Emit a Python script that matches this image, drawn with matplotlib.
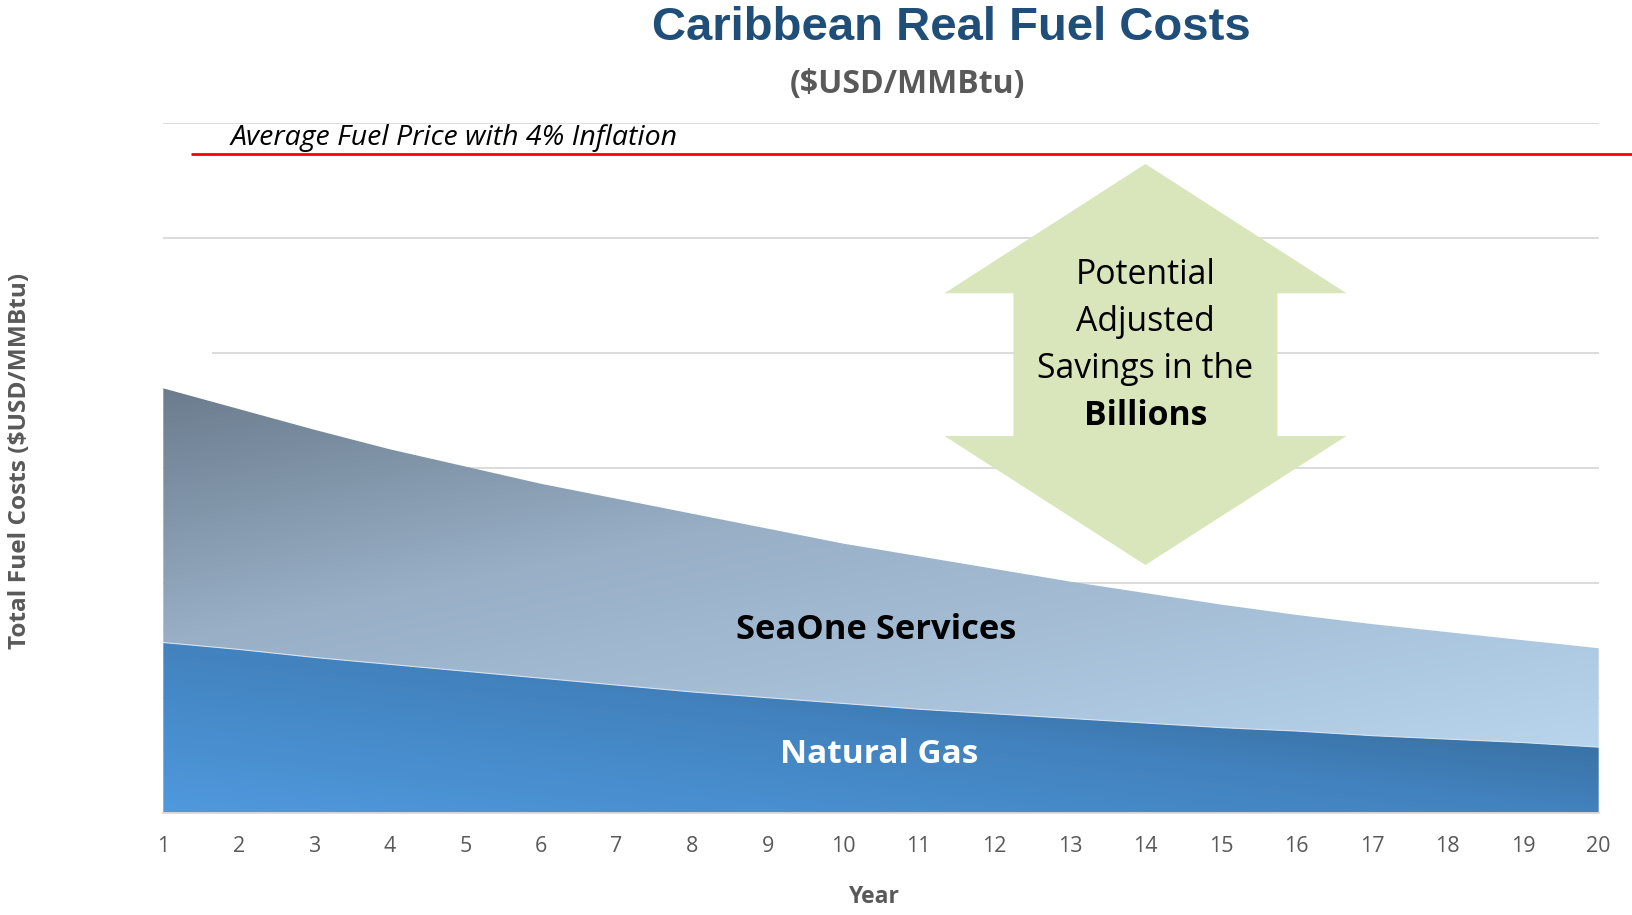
import numpy as np
import matplotlib
matplotlib.use("Agg")
import matplotlib.pyplot as plt
from matplotlib.colors import to_rgb

# ---------------- data ----------------
years = list(range(1, 21))
natural_gas = [1.48, 1.42, 1.35, 1.29, 1.23, 1.17, 1.11, 1.05, 1.00, 0.95,
               0.90, 0.86, 0.82, 0.78, 0.74, 0.71, 0.67, 0.64, 0.61, 0.57]
seaone_services = [2.21, 2.09, 1.98, 1.87, 1.78, 1.69, 1.62, 1.55, 1.47, 1.39,
                   1.33, 1.26, 1.19, 1.13, 1.07, 1.01, 0.97, 0.93, 0.89, 0.86]
avg_fuel_price_inflation = 5.725
series_labels = ["Natural Gas", "SeaOne Services"]
tick_labels = [str(y) for y in years]

title = "Caribbean Real Fuel Costs"
subtitle = "($USD/MMBtu)"
y_label = "Total Fuel Costs ($USD/MMBtu)"
x_label = "Year"
avg_label = "Average Fuel Price with 4% Inflation"
arrow_lines = ["Potential", "Adjusted", "Savings in the", "Billions"]

grid_levels = [1, 2, 3, 4, 5, 6]
grid_starts = [1, 1, 1, 1.64, 1, 1]

# ---------------- figure ----------------
W, H = 1632, 915
fig = plt.figure(figsize=(W / 100, H / 100), dpi=100)
fig.patch.set_facecolor("white")
ax = fig.add_axes([163.3 / W, (H - 812.7) / H, 1435.4 / W, 690 / H])
ax.set_xlim(1, 20)
ax.set_ylim(0, 6)

# grid
ax.hlines(grid_levels, grid_starts, 20, color="#D9D9D9", lw=1.3, zorder=1)
ax.set_yticks([])
for s in ["left", "right", "top"]:
    ax.spines[s].set_visible(False)
ax.spines["bottom"].set_color("#D9D9D9")
ax.spines["bottom"].set_linewidth(1.3)

# stacked areas
polys = ax.stackplot(years, natural_gas, seaone_services,
                     colors=["none", "none"], labels=series_labels,
                     edgecolor="none", zorder=2)

# gradients
ny, nx = 600, 800
u = np.linspace(0, 1, nx)[None, :]
w = np.linspace(1, 0, ny)[:, None]  # top row = y max (6)


def ramp(t, stops, cols):
    t = np.clip(t, 0, 1)
    cols = np.array([to_rgb(c) for c in cols])
    out = np.zeros(t.shape + (3,))
    for k in range(3):
        out[..., k] = np.interp(t, stops, cols[:, k])
    return out


t_gas = (170.8 * u + 690 * w) / 237.0
img_gas = ramp(t_gas, [0, 0.72, 1.0], ["#4F99DD", "#4282BE", "#3A72A5"])
t_sea = 0.55 * (423.7 - 690 * w) / 357.0 + 0.45 * u
img_sea = ramp(t_sea, [0, 0.39, 0.85, 1.0],
               ["#6B7C8D", "#98AFC6", "#AFCAE3", "#B9D5ED"])

for poly, img in zip(polys, [img_gas, img_sea]):
    im = ax.imshow(img, extent=[1, 20, 0, 6], aspect="auto",
                   interpolation="bilinear", zorder=2, origin="upper")
    im.set_clip_path(poly.get_paths()[0], transform=ax.transData)

# thin light separation line on top of gas
ax.plot(years, natural_gas, color="#D6E2EE", lw=0.8, zorder=3)

# x ticks
ax.set_xticks(years)
ax.set_xticklabels(tick_labels, fontfamily="Open Sans", fontsize=15.5,
                   color="#595959")
ax.tick_params(axis="x", length=0, pad=17)

# red average line
ax.plot([1.363, 20.44], [avg_fuel_price_inflation] * 2, color="#FF0000",
        lw=2.0, clip_on=False, zorder=4, solid_capstyle="butt")
ax.text(1.896, 5.805, avg_label, fontfamily="Open Sans", style="italic",
        fontsize=20.5, color="black", va="baseline", ha="left", zorder=5)

# double arrow
cx = 14.0
head_hw, shaft_hw = 2.66, 1.747
y_tip_top, y_head_top, y_head_bot, y_tip_bot = 5.641, 4.517, 3.276, 2.154
arrow_x = [cx, cx + head_hw, cx + shaft_hw, cx + shaft_hw, cx + head_hw, cx,
           cx - head_hw, cx - shaft_hw, cx - shaft_hw, cx - head_hw]
arrow_y = [y_tip_top, y_head_top, y_head_top, y_head_bot, y_head_bot, y_tip_bot,
           y_head_bot, y_head_bot, y_head_top, y_head_top]
ax.fill(arrow_x, arrow_y, color="#D9E5BA", zorder=3, lw=0)

baselines = [4.595, 4.188, 3.78, 3.375]
for i, (line, yb) in enumerate(zip(arrow_lines, baselines)):
    ax.text(cx, yb, line, fontfamily="Open Sans", fontsize=24.3,
            fontweight="bold" if i == 3 else "normal",
            ha="center", va="baseline", color="black", zorder=5)

# series labels
ax.text(10.43, 1.59, series_labels[1], fontfamily="Open Sans", fontsize=24.8,
        fontweight="bold", color="black", ha="center", va="center", zorder=5)
ax.text(10.48, 0.51, series_labels[0], fontfamily="Open Sans", fontsize=24,
        fontweight="bold", color="white", ha="center", va="center", zorder=5)

# titles and axis labels
fig.text(951 / W, 1 - 40 / H, title, fontfamily="Liberation Sans",
         fontweight="bold", fontsize=34, color="#1F4E79",
         ha="center", va="baseline")
fig.text(907.5 / W, 1 - 93.3 / H, subtitle, fontfamily="Open Sans",
         fontweight="bold", fontsize=23, color="#595959",
         ha="center", va="baseline")
fig.text(20 / W, 1 - 461 / H, y_label, fontfamily="Open Sans",
         fontweight="bold", fontsize=17.6, color="#595959",
         rotation=90, ha="center", va="center")
fig.text(873 / W, 1 - 897 / H, x_label, fontfamily="Open Sans",
         fontweight="bold", fontsize=16.5, color="#595959",
         ha="center", va="center")

fig.savefig("out.png", dpi=100, facecolor="white")
